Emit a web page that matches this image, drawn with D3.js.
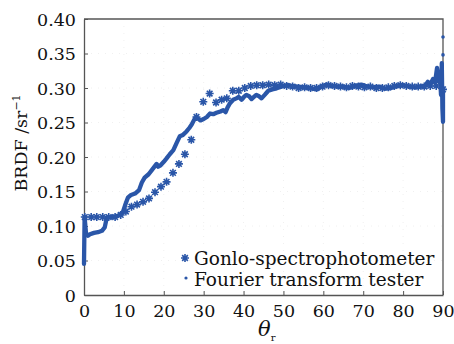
<!DOCTYPE html>
<html>
<head>
<meta charset="utf-8">
<script src="https://cdn.jsdelivr.net/npm/d3@7"></script>
<style>
body { margin: 0; background: #fff; }
text { font-family: "DejaVu Serif", serif; fill: #111; }
</style>
</head>
<body>
<svg width="454" height="344"></svg>
<script>
// BRDF vs reflection angle, two instruments

var xTicks = [0, 10, 20, 30, 40, 50, 60, 70, 80, 90];
var yTicks = [0, 0.05, 0.10, 0.15, 0.20, 0.25, 0.30, 0.35, 0.40];
var yTickLabels = ["0", "0.05", "0.10", "0.15", "0.20", "0.25", "0.30", "0.35", "0.40"];
var seriesNames = ["Gonlo-spectrophotometer", "Fourier transform tester"];

// gonio-spectrophotometer samples [theta, BRDF]
var gonloTheta = [0.2, 1.8, 3.2, 4.7, 6.2, 7.8, 9.2, 10.5, 11.9, 13.3, 14.8, 16.3, 17.8, 19.3, 20.7, 22.3,
    23.8, 25.3, 26.9, 28.2, 29.9, 31.5, 33.1, 34.5, 35.8, 37.3, 38.8, 40.3, 41.8, 43.3, 44.8, 46.3,
    47.8, 49.3, 50.8, 52.3, 53.8, 55.3, 56.8, 58.3, 59.8, 61.3, 62.8, 64.3, 65.8, 67.3, 68.8, 70.3,
    71.8, 73.3, 74.8, 76.3, 77.8, 79.3, 80.8, 82.3, 83.8, 85.3, 86.8, 88.3, 90];
var gonloValue = [0.113, 0.113, 0.113, 0.113, 0.113, 0.113, 0.116, 0.121, 0.128, 0.131, 0.135, 0.140, 0.149, 0.157, 0.164, 0.177,
    0.190, 0.204, 0.225, 0.258, 0.280, 0.292, 0.279, 0.283, 0.285, 0.296, 0.296, 0.300, 0.303, 0.304, 0.304, 0.305,
    0.304, 0.305, 0.303, 0.302, 0.300, 0.301, 0.300, 0.300, 0.302, 0.304, 0.303, 0.302, 0.301, 0.303, 0.302, 0.301,
    0.302, 0.300, 0.300, 0.301, 0.303, 0.304, 0.303, 0.302, 0.302, 0.302, 0.303, 0.303, 0.298];

// fourier transform tester trace [theta, BRDF]
var fourierTheta = [0, 0.15, 0.5, 1, 1.5, 2.5, 3.5, 4.5, 5.2, 5.7, 6.5, 8, 9, 9.8, 10.3, 11, 11.8, 12.8, 13.8, 14.5,
    15.2, 16.2, 17, 18.2, 18.6, 19.2, 20, 20.7, 21.5, 22.4, 23.2, 24, 24.8, 25.7, 26.4, 27, 27.8, 28.5, 29.2, 30,
    30.8, 31.6, 32.4, 33.2, 34.2, 34.9, 35.5, 36, 36.6, 37.4, 38.2, 38.8, 39.5, 40.1, 40.7, 41.4, 42, 42.6, 43.2, 43.9,
    44.5, 45.3, 46.2, 47.2, 48.3, 49.5, 50.8, 52, 53.5, 55, 56.5, 58.3, 59.5, 60.8, 62, 63.5, 65, 66.5, 68, 69.5,
    71, 72.5, 74, 75.5, 77, 78.5, 80, 81.5, 83, 84.5, 85.5, 86.2, 86.8, 87.5, 88, 88.5, 88.9, 89.2, 89.5, 89.7,
    89.85, 90, 90];
var fourierValue = [0.045, 0.113, 0.090, 0.086, 0.088, 0.090, 0.091, 0.093, 0.098, 0.112, 0.113, 0.114, 0.116, 0.121, 0.130, 0.141, 0.145, 0.147, 0.152, 0.163,
    0.170, 0.175, 0.181, 0.190, 0.186, 0.188, 0.193, 0.198, 0.204, 0.210, 0.220, 0.230, 0.232, 0.237, 0.242, 0.247, 0.256, 0.256, 0.253, 0.255,
    0.258, 0.263, 0.262, 0.264, 0.266, 0.268, 0.265, 0.272, 0.278, 0.283, 0.285, 0.287, 0.283, 0.287, 0.290, 0.288, 0.284, 0.287, 0.290, 0.288,
    0.285, 0.290, 0.296, 0.298, 0.2995, 0.302, 0.304, 0.303, 0.302, 0.301, 0.300, 0.298, 0.302, 0.305, 0.303, 0.302, 0.302, 0.300, 0.303, 0.305,
    0.302, 0.301, 0.302, 0.299, 0.300, 0.303, 0.304, 0.302, 0.301, 0.302, 0.303, 0.309, 0.305, 0.313, 0.308, 0.329, 0.310, 0.322, 0.290, 0.336,
    0.270, 0.251, 0.300];
var outlierTheta = [90, 90];
var outlierValue = [0.374, 0.348];

var blue = "#2a56a8";

var svg = d3.select("svg");
var margin = { left: 84, right: 11, top: 19, bottom: 49 };
var width = 454 - margin.left - margin.right;
var height = 344 - margin.top - margin.bottom;

var x = d3.scaleLinear().domain([0, 90]).range([0, width]);
var y = d3.scaleLinear().domain([0, 0.4]).range([height, 0]);

var g = svg.append("g").attr("transform", "translate(" + margin.left + "," + margin.top + ")");

// very faint dotted grid
g.selectAll(".gy").data(yTicks.slice(1, -1)).enter().append("line")
    .attr("x1", 0).attr("x2", width)
    .attr("y1", function(d) { return y(d); }).attr("y2", function(d) { return y(d); })
    .attr("stroke", "#f0f0f0").attr("stroke-dasharray", "1,6");
g.selectAll(".gx").data(xTicks.slice(1, -1)).enter().append("line")
    .attr("y1", 0).attr("y2", height)
    .attr("x1", function(d) { return x(d); }).attr("x2", function(d) { return x(d); })
    .attr("stroke", "#f0f0f0").attr("stroke-dasharray", "1,6");

// axes, ticks pointing inward
var xAxis = g.append("g").attr("transform", "translate(0," + height + ")")
    .call(d3.axisBottom(x).tickValues(xTicks).tickSizeInner(-4).tickSizeOuter(0).tickPadding(9));
var yAxis = g.append("g")
    .call(d3.axisLeft(y).tickValues(yTicks).tickSizeInner(-4).tickSizeOuter(0).tickPadding(8)
        .tickFormat(function(d, i) { return yTickLabels[i]; }));

[xAxis, yAxis].forEach(function(a) {
    a.select(".domain").attr("stroke", "#555").attr("stroke-width", 1.3);
    a.selectAll(".tick line").attr("stroke", "#555");
    a.selectAll(".tick text").style("font-family", "DejaVu Serif, serif").style("font-size", "17.5px").attr("fill", "#111");
});
xAxis.selectAll(".tick text").attr("dy", "0.75em");
yAxis.selectAll(".tick text").attr("dy", "0.36em");

// top and right border
g.append("path")
    .attr("d", "M0,0H" + width + "V" + height)
    .attr("fill", "none").attr("stroke", "#555").attr("stroke-width", 1.3);

// fourier transform tester: dense dotted trace
var fourierData = fourierTheta.map(function(t, i) { return [t, fourierValue[i]]; });
var line = d3.line().x(function(d) { return x(d[0]); }).y(function(d) { return y(d[1]); });
g.append("path").datum(fourierData)
    .attr("d", line)
    .attr("fill", "none").attr("stroke", blue).attr("stroke-width", 4.3)
    .attr("stroke-linejoin", "round").attr("stroke-linecap", "round");
g.selectAll(".out").data(outlierTheta).enter().append("circle")
    .attr("cx", function(d) { return x(d); })
    .attr("cy", function(d, i) { return y(outlierValue[i]); })
    .attr("r", 1.8).attr("fill", blue);

// gonio-spectrophotometer: asterisks
function star(s) {
    var a = s * 0.7071;
    return "M0," + (-s) + "V" + s + "M" + (-s) + ",0H" + s +
        "M" + (-a) + "," + (-a) + "L" + a + "," + a + "M" + (-a) + "," + a + "L" + a + "," + (-a);
}
g.selectAll(".gon").data(gonloTheta).enter().append("path")
    .attr("transform", function(d, i) { return "translate(" + x(d) + "," + y(gonloValue[i]) + ")"; })
    .attr("d", star(4))
    .attr("fill", "none").attr("stroke", blue).attr("stroke-width", 1.6);

// legend
var leg = g.append("g").attr("transform", "translate(101,237)");
leg.append("path").attr("transform", "translate(0,2)").attr("d", star(4))
    .attr("fill", "none").attr("stroke", blue).attr("stroke-width", 1.6);
leg.append("circle").attr("cx", 1).attr("cy", 22).attr("r", 1.6).attr("fill", blue);
leg.selectAll("text").data(seriesNames).enter().append("text")
    .attr("x", 9).attr("y", function(d, i) { return 2 + i * 21; })
    .attr("dy", "0.36em")
    .style("font-size", "18.5px")
    .text(function(d) { return d; });

// axis titles
var yl = svg.append("text")
    .attr("transform", "translate(27,143) rotate(-90)")
    .attr("text-anchor", "middle")
    .style("font-size", "17.5px");
yl.append("tspan").text("BRDF /sr");
yl.append("tspan").attr("dy", -7).style("font-size", "11px").text("\u22121");

var xl = svg.append("text")
    .attr("x", 258).attr("y", 336)
    .style("font-size", "21px");
xl.append("tspan").style("font-style", "italic").text("\u03b8");
xl.append("tspan").attr("dy", 5).style("font-size", "10px").text("r");
</script>
</body>
</html>
